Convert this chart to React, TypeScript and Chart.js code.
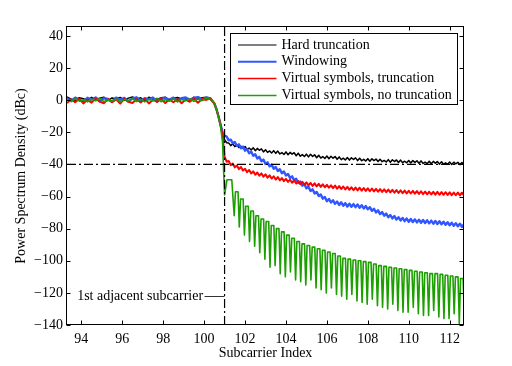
import React, { useEffect, useRef } from "react";
import { Chart, registerables } from "chart.js";

Chart.register(...registerables);

// ---------- axes ----------
const X_MIN = 93.3;
const X_MAX = 112.7;
const Y_MIN = -140;
const Y_MAX = 45.6;
const xTickValues = [94, 96, 98, 100, 102, 104, 106, 108, 110, 112];
const yTickValues = [-140, -120, -100, -80, -60, -40, -20, 0, 20, 40];
const xTitle = "Subcarrier Index";
const yTitle = "Power Spectrum Density (dBc)";

// ---------- series ----------
const seriesNames = [
  "Hard truncation",
  "Windowing",
  "Virtual symbols, truncation",
  "Virtual symbols, no truncation",
];
const seriesColors = ["#000000", "#3056ff", "#ff0000", "#1c9f00"];
const seriesWidths = [1.5, 2.4, 2, 1.6];
const legendWidths = [1.2, 2, 1.5, 1.5];

// sample grids: in-band part (93.3 .. 100.3, step 0.2), edge + out-of-band part (100.4 .. 112.7, step 0.1)
const flatStart = 93.3;
const flatStep = 0.2;
const tailStart = 100.4;
const tailStep = 0.1;

const blackFlat = [2.0, 0.7, -0.4, 1.6, 1.0, -0.2, 1.8, 0.5, 1.2, 1.9, -0.3, 1.4, 0.9, 1.7, -0.1, 1.3, 2.0, 0.6, 1.5, -0.5, 1.8, 1.1, 0.4, 1.6, 1.9, -0.2, 1.2, 1.7, 0.8, 1.4, -0.3, 1.9, 1.0, 1.6, 1.8, 1.4];
const blueFlat = [1.3, -0.5, 1.6, 0.2, -0.8, 1.5, 0.4, 1.7, -0.6, 1.2, 0.8, -0.9, 1.6, 0.3, 1.4, -0.7, 1.1, 1.8, -0.4, 1.3, 0.5, 1.7, -0.8, 1.0, 1.5, 0.2, 1.6, -0.5, 1.2, 1.7, 0.3, 1.4, 1.9, 0.6, 1.5, 1.2];
const redFlat = [-1.8, 0.6, -1.2, 0.9, -2.0, 0.4, -1.5, 1.0, -0.9, -1.9, 0.7, -1.3, 0.5, -2.1, 0.8, -1.0, -1.7, 0.6, -1.4, 1.0, -2.0, 0.3, -1.1, 0.9, -1.8, 0.5, -1.3, 0.8, -1.9, 0.4, -1.0, 0.9, -1.6, 0.7, 0.2, 1.0];
const greenFlat = [0.5, -0.8, 1.0, -0.6, 0.3, -1.0, 0.8, -0.4, 1.1, -0.9, 0.2, -0.7, 0.9, -1.1, 0.4, -0.3, 1.0, -0.8, 0.6, -1.0, 0.7, -0.5, 1.2, -0.9, 0.3, -0.6, 0.9, -1.0, 0.5, -0.4, 1.0, -0.7, 0.8, -0.3, 1.3, 0.6];

const blackTail = [
  -0.5, -2, -5.5, -10, -15, -20, -24.5, -26.5, -26.6, -28.3,
  -27.2, -28.9, -27.6, -29.5, -28.6, -30.1, -28.8, -30.6, -29.8, -31.0,
  -29.6, -31.4, -30.0, -31.2, -30.3, -32.2, -30.9, -32.5, -31.6, -32.9,
  -31.4, -33.1, -31.7, -33.5, -32.6, -33.8, -32.2, -34.0, -32.5, -33.6,
  -32.7, -34.6, -33.0, -34.9, -33.9, -35.1, -33.6, -35.3, -33.7, -35.0,
  -34.0, -35.8, -34.3, -36.0, -35.1, -36.3, -34.8, -36.4, -34.9, -36.1,
  -35.1, -36.8, -35.3, -37.0, -36.1, -37.2, -35.7, -37.3, -35.8, -36.9,
  -35.9, -37.6, -36.1, -37.7, -36.8, -37.9, -36.4, -38.0, -36.5, -37.6,
  -36.6, -38.2, -36.8, -38.3, -37.5, -38.5, -37.0, -38.6, -37.1, -38.2,
  -37.2, -38.8, -37.3, -38.9, -38.0, -39.0, -37.5, -39.1, -37.6, -38.7,
  -37.7, -39.3, -37.8, -39.4, -38.6, -39.5, -38.0, -39.6, -38.1, -39.2,
  -38.2, -39.8, -38.3, -39.9, -39.0, -39.9, -38.5, -40.0, -38.6, -39.6,
  -38.7, -40.1, -38.8, -40.2,
];
const blueTail = [
  -0.5, -2, -5.5, -10, -15, -20, -22, -22.6, -25.0, -24.6,
  -26.8, -26.1, -28.4, -27.5, -29.9, -28.9, -31.4, -30.5, -33.0, -32.0,
  -34.6, -33.7, -36.3, -35.3, -38.0, -37.0, -39.7, -38.7, -41.2, -40.1,
  -42.7, -41.6, -44.1, -43.0, -45.5, -44.4, -46.9, -45.9, -48.4, -47.4,
  -50.0, -48.9, -51.6, -50.6, -53.2, -52.2, -54.9, -53.9, -56.5, -55.5,
  -58.1, -57.1, -59.7, -58.7, -61.3, -60.3, -62.9, -61.5, -63.7, -62.3,
  -64.5, -63.1, -65.2, -63.6, -65.7, -64.1, -66.2, -64.5, -66.4, -64.7,
  -66.6, -64.9, -67.0, -65.4, -67.4, -65.9, -67.9, -66.6, -68.9, -67.6,
  -69.9, -68.6, -70.9, -69.6, -71.9, -70.6, -72.9, -71.5, -73.6, -72.2,
  -74.3, -72.9, -74.9, -73.3, -75.3, -73.7, -75.7, -74.0, -75.9, -74.2,
  -76.1, -74.4, -76.3, -74.6, -76.5, -74.8, -76.7, -75.0, -76.9, -75.2,
  -77.1, -75.4, -77.3, -75.7, -77.6, -76.0, -77.9, -76.3, -78.2, -76.6,
  -78.5, -76.9, -78.9, -77.3,
];
const redTail = [
  -0.5, -2, -5.5, -10, -15.5, -22, -35.2, -38.3, -37.9, -40.4,
  -39.5, -41.8, -40.7, -42.9, -41.6, -43.8, -42.7, -44.8, -43.5, -45.6,
  -44.3, -46.4, -45.0, -47.0, -45.6, -47.6, -46.2, -48.2, -46.8, -48.8,
  -47.4, -49.4, -47.9, -49.9, -48.5, -50.4, -49.0, -50.9, -49.5, -51.4,
  -50.0, -51.9, -50.4, -52.3, -50.8, -52.7, -51.2, -53.0, -51.5, -53.4,
  -51.8, -53.7, -52.1, -54.0, -52.4, -54.2, -52.7, -54.5, -53.0, -54.8,
  -53.2, -55.1, -53.5, -55.3, -53.7, -55.6, -54.0, -55.8, -54.2, -56.0,
  -54.4, -56.2, -54.5, -56.3, -54.7, -56.5, -54.9, -56.7, -55.0, -56.8,
  -55.2, -57.0, -55.4, -57.1, -55.5, -57.3, -55.7, -57.4, -55.8, -57.6,
  -56.0, -57.8, -56.1, -57.9, -56.3, -58.0, -56.4, -58.1, -56.5, -58.2,
  -56.6, -58.4, -56.7, -58.5, -56.9, -58.6, -57.0, -58.7, -57.1, -58.8,
  -57.1, -58.9, -57.2, -58.9, -57.3, -59.0, -57.4, -59.1, -57.5, -59.2,
  -57.5, -59.3, -57.6, -59.3,
];

// green: band edge drop (100.4 .. 101.0, step 0.1), then lobes separated by nulls
const greenDrop = [-0.5, -2, -5.5, -10, -16, -26, -59];
const greenLobeStart = 101.0;
const greenNullStart = 101.47;
const greenNullStep = 0.25;
const greenLobePeaks = [
  -49.5, -57, -61.5, -66, -69, -72, -74, -75.5, -78, -80,
  -82, -84, -86, -88, -89.5, -90.5, -91.5, -92.5, -93.5, -94.5,
  -95.5, -97, -98.5, -99, -99.5, -100, -100.5, -101, -102, -103,
  -103.5, -104, -104.5, -105, -105.5, -106, -106.5, -107, -107.5, -108,
  -108, -108.5, -109, -109.5, -110, -111,
];
const greenNulls = [
  -72, -79, -84, -88, -91, -95, -99, -104, -103, -108,
  -110, -107, -112, -113, -115, -112, -117, -118, -120, -117,
  -121, -122, -124, -121, -125, -126, -127, -124, -128, -129,
  -130, -127, -131, -132, -132, -129, -133, -134, -134, -131,
  -135, -136, -136, -133, -139, -136,
];

// reference markers
const adjacentSubcarrier = 101;
const referenceLevel = -40;
const annotationText = "1st adjacent subcarrier";
const annotationLevel = -122;

// ---------- helpers ----------
const grid = (start: number, step: number, n: number) =>
  Array.from({ length: n }, (_, i) => +(start + step * i).toFixed(4));
const pairs = (xs: number[], ys: number[]) => xs.map((x, i) => ({ x, y: ys[i] }));

const xFlat = grid(flatStart, flatStep, blackFlat.length);
const xTail = grid(tailStart, tailStep, blackTail.length);

function buildGreen() {
  const pts = [...pairs(xFlat, greenFlat), ...pairs(grid(tailStart, tailStep, greenDrop.length), greenDrop)];
  let left = greenLobeStart;
  for (let k = 0; k < greenNulls.length; k++) {
    const right = greenNullStart + greenNullStep * k;
    const w = right - left;
    pts.push({ x: left + 0.25 * w, y: greenLobePeaks[k] });
    pts.push({ x: left + 0.75 * w, y: greenLobePeaks[k] });
    pts.push({ x: right, y: greenNulls[k] });
    left = right;
  }
  return pts;
}

const FONT = "'Liberation Serif', 'Times New Roman', serif";

const matlabPlugin = {
  id: "matlabFrame",
  afterDraw(chart: any) {
    const { ctx, chartArea: a, scales } = chart;
    const xs = scales.x;
    const ys = scales.y;
    const L = Math.round(a.left) - 0.5;
    const R = Math.round(a.right) - 0.5;
    const T = Math.round(a.top) - 0.5;
    const B = Math.round(a.bottom) - 0.5;
    ctx.save();
    ctx.strokeStyle = "#000";
    ctx.lineWidth = 1;
    ctx.setLineDash([]);
    // frame
    ctx.strokeRect(L, T, R - L, B - T);
    // inward ticks
    const tl = 4;
    ctx.beginPath();
    xTickValues.forEach((v) => {
      const px = Math.round(xs.getPixelForValue(v)) + 0.5;
      ctx.moveTo(px, B);
      ctx.lineTo(px, B - tl);
      ctx.moveTo(px, T);
      ctx.lineTo(px, T + tl);
    });
    yTickValues.forEach((v) => {
      const py = Math.round(ys.getPixelForValue(v)) + 0.5;
      ctx.moveTo(L, py);
      ctx.lineTo(L + tl, py);
      ctx.moveTo(R, py);
      ctx.lineTo(R - tl, py);
    });
    ctx.stroke();

    // annotation
    const ax = xs.getPixelForValue(adjacentSubcarrier);
    const ay = Math.round(ys.getPixelForValue(annotationLevel)) + 0.5;
    ctx.strokeStyle = "#333";
    ctx.beginPath();
    ctx.moveTo(ax - 20, ay);
    ctx.lineTo(ax, ay);
    ctx.stroke();
    ctx.fillStyle = "#000";
    ctx.font = `14px ${FONT}`;
    ctx.textAlign = "right";
    ctx.textBaseline = "middle";
    ctx.fillText(annotationText, ax - 21.5, ay);

    // legend
    const bw = 227;
    const bh = 71;
    const bx = R - 6 - bw;
    const by = T + 7;
    ctx.fillStyle = "#fff";
    ctx.fillRect(bx, by, bw, bh);
    ctx.strokeStyle = "#000";
    ctx.lineWidth = 1;
    ctx.strokeRect(bx, by, bw, bh);
    ctx.textAlign = "left";
    seriesNames.forEach((name, i) => {
      const ry = by + 11.5 + 16.8 * i;
      ctx.strokeStyle = seriesColors[i];
      ctx.lineWidth = legendWidths[i];
      ctx.beginPath();
      ctx.moveTo(bx + 7.5, ry);
      ctx.lineTo(bx + 46, ry);
      ctx.stroke();
      ctx.fillStyle = "#000";
      ctx.fillText(name, bx + 51, ry);
    });
    ctx.restore();
  },
};

export default function App() {
  const ref = useRef<HTMLCanvasElement | null>(null);
  useEffect(() => {
    if (!ref.current) return;
    Chart.defaults.font.family = FONT;
    Chart.defaults.font.size = 14;
    Chart.defaults.color = "#000";

    const blackData = [...pairs(xFlat, blackFlat), ...pairs(xTail, blackTail)];
    const blueData = [...pairs(xFlat, blueFlat), ...pairs(xTail, blueTail)];
    const redData = [...pairs(xFlat, redFlat), ...pairs(xTail, redTail)];
    const greenData = buildGreen();
    const dashDot = [9, 3, 2, 3];

    const lineDs = (label: string, data: any[], i: number) => ({
      label,
      data,
      borderColor: seriesColors[i],
      borderWidth: seriesWidths[i],
      pointRadius: 0,
      tension: 0,
      borderJoinStyle: "round" as const,
      fill: false,
    });

    const chart = new Chart(ref.current, {
      type: "line",
      data: {
        datasets: [
          {
            label: "adjacent",
            data: [
              { x: adjacentSubcarrier, y: Y_MIN },
              { x: adjacentSubcarrier, y: Y_MAX },
            ],
            borderColor: "#000",
            borderWidth: 1.2,
            borderDash: dashDot,
            pointRadius: 0,
            fill: false,
          },
          {
            label: "level",
            data: [
              { x: X_MIN, y: referenceLevel },
              { x: X_MAX, y: referenceLevel },
            ],
            borderColor: "#000",
            borderWidth: 1.2,
            borderDash: dashDot,
            pointRadius: 0,
            fill: false,
          },
          lineDs(seriesNames[3], greenData, 3),
          lineDs(seriesNames[2], redData, 2),
          lineDs(seriesNames[1], blueData, 1),
          lineDs(seriesNames[0], blackData, 0),
        ],
      },
      options: {
        animation: false,
        responsive: false,
        devicePixelRatio: 1,
        layout: { padding: { top: 27, right: 48, bottom: 0, left: 0 } },
        plugins: {
          legend: { display: false },
          tooltip: { enabled: false },
        },
        scales: {
          x: {
            type: "linear",
            min: X_MIN,
            max: X_MAX,
            grid: { display: false, drawTicks: false },
            border: { display: false },
            afterBuildTicks: (s: any) => {
              s.ticks = xTickValues.map((v) => ({ value: v }));
            },
            afterFit: (s: any) => {
              s.height = 41;
            },
            ticks: {
              padding: 6,
              maxRotation: 0,
              autoSkip: false,
              color: "#000",
              font: { family: FONT, size: 14 },
              callback: (v: any) => String(v),
            },
            title: {
              display: true,
              text: xTitle,
              color: "#000",
              font: { family: FONT, size: 14 },
              padding: { top: 0, bottom: 3.8 },
            },
          },
          y: {
            type: "linear",
            min: Y_MIN,
            max: Y_MAX,
            grid: { display: false, drawTicks: false },
            border: { display: false },
            afterBuildTicks: (s: any) => {
              s.ticks = yTickValues.map((v) => ({ value: v }));
            },
            afterFit: (s: any) => {
              s.width = 67;
            },
            ticks: {
              padding: 4,
              autoSkip: false,
              color: "#000",
              font: { family: FONT, size: 14 },
              callback: (v: any) => String(v).replace("-", "\u2212"),
            },
            title: {
              display: true,
              text: yTitle,
              color: "#000",
              font: { family: FONT, size: 14 },
              padding: { top: 12.6, bottom: 0 },
            },
          },
        },
      },
      plugins: [matlabPlugin],
    });
    return () => chart.destroy();
  }, []);

  return (
    <div style={{ position: "fixed", left: 0, top: 0, width: 512, height: 366, background: "#fff" }}>
      <canvas ref={ref} width={512} height={366} style={{ width: 512, height: 366, display: "block" }} />
    </div>
  );
}
